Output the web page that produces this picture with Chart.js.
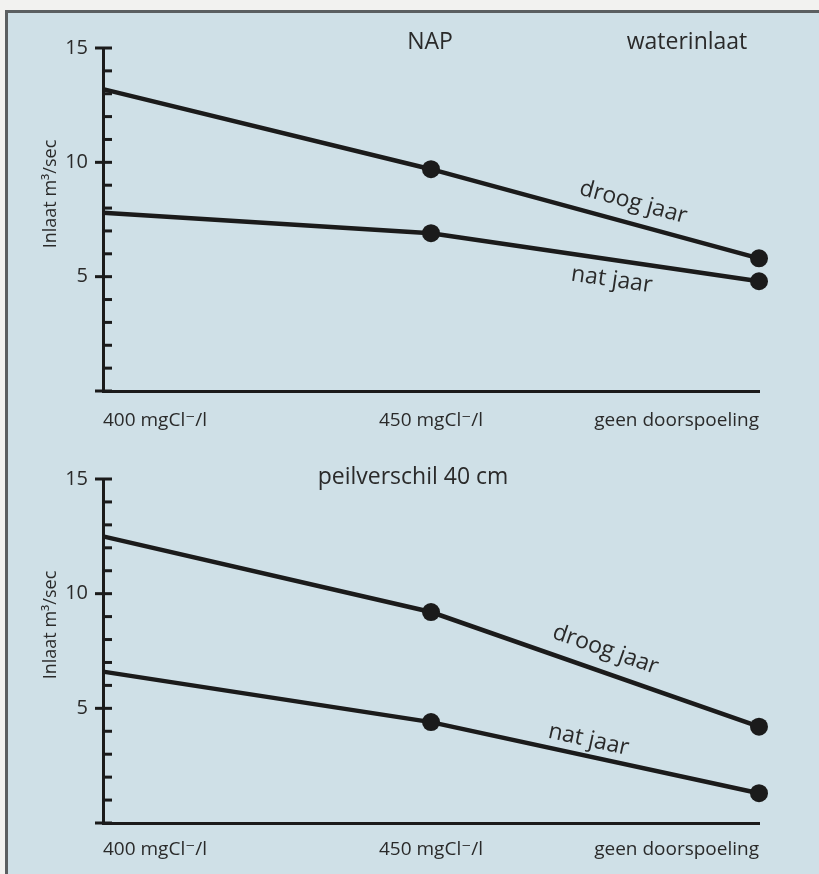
<!DOCTYPE html>
<html>
<head>
<meta charset="utf-8">
<script src="https://cdn.jsdelivr.net/npm/chart.js@4/dist/chart.umd.min.js"></script>
<style>
  html, body { margin: 0; padding: 0; }
  body { width: 819px; height: 874px; overflow: hidden; background: #f2f2f0; position: relative; }
  #panel { position: absolute; left: 5px; top: 10px; right: 0; bottom: 0;
           border-left: 3px solid #5b5f61; border-top: 3px solid #5b5f61; background: #cfe0e7; }
  canvas { position: absolute; left: 0; }
  #c1 { top: 0; }
  #c2 { top: 437px; }
</style>
</head>
<body>
<div id="panel"></div>
<canvas id="c1" width="819" height="437"></canvas>
<canvas id="c2" width="819" height="437"></canvas>
<script>
// Scenarios along the x axis
const categories = ['400 mgCl⁻/l', '450 mgCl⁻/l', 'geen doorspoeling'];

// Inlet flow (m³/sec), NAP water level
const napDroog = [13.2, 9.7, 5.8];
const napNat   = [7.8, 6.9, 4.8];

// Inlet flow (m³/sec), level difference 40 cm
const peilDroog = [12.5, 9.2, 4.2];
const peilNat   = [6.6, 4.4, 1.3];

// Labelled values on the y axis (minor ticks every 1)
const yTickLabels = [5, 10, 15];
const yMin = 0, yMax = 15;

const INK = '#1b1b1b';
const TEXT = '#2a2a2a';
const FONT = '"Open Sans", "DejaVu Sans", sans-serif';

// Draws the axis tick marks, the rotated y title, panel headings and line labels
const figureText = {
  id: 'figureText',
  afterDatasetsDraw(chart, args, opts) {
    const ctx = chart.ctx;
    const ys = chart.scales.y;
    const area = chart.chartArea;
    const ax = area.left;
    ctx.save();
    // tick marks on the y axis
    ctx.strokeStyle = INK;
    ctx.lineWidth = 3;
    ys.ticks.forEach(t => {
      const y = ys.getPixelForValue(t.value);
      ctx.beginPath();
      if (t.value % 5 === 0) {
        ctx.moveTo(ax - 8, y); ctx.lineTo(ax + 9, y);
      } else {
        ctx.moveTo(ax, y); ctx.lineTo(ax + 9, y);
      }
      ctx.stroke();
    });
    // y axis title
    ctx.fillStyle = TEXT;
    ctx.font = '18px ' + FONT;
    ctx.textAlign = 'center';
    ctx.textBaseline = 'middle';
    ctx.save();
    ctx.translate(opts.yTitleX, area.top + opts.yTitleDy);
    ctx.rotate(-Math.PI / 2);
    ctx.fillText(opts.yTitle, 0, 0);
    ctx.restore();
    // headings
    ctx.font = '23px ' + FONT;
    opts.headings.forEach(h => {
      ctx.fillText(h.text, h.x, h.y);
    });
    // labels along the lines
    ctx.font = '23px ' + FONT;
    opts.lineLabels.forEach(l => {
      const pts = chart.getDatasetMeta(l.dataset).data;
      const p1 = pts[l.segment], p2 = pts[l.segment + 1];
      const ang = Math.atan2(p2.y - p1.y, p2.x - p1.x);
      const cx = p1.x + (p2.x - p1.x) * l.t - Math.sin(ang) * l.offset;
      const cy = p1.y + (p2.y - p1.y) * l.t + Math.cos(ang) * l.offset;
      ctx.save();
      ctx.translate(cx, cy);
      ctx.rotate(ang);
      ctx.fillText(l.text, 0, 0);
      ctx.restore();
    });
    ctx.restore();
  }
};

function lineDataset(values) {
  return {
    data: values,
    borderColor: INK,
    borderWidth: 4.5,
    backgroundColor: INK,
    pointBackgroundColor: INK,
    pointBorderWidth: 0,
    pointRadius: [0, 9, 9],
    tension: 0,
    clip: false
  };
}

function makeChart(id, droog, nat, cfg) {
  return new Chart(document.getElementById(id), {
    type: 'line',
    data: {
      labels: categories,
      datasets: [lineDataset(droog), lineDataset(nat)]
    },
    options: {
      responsive: false,
      animation: false,
      devicePixelRatio: 1,
      layout: { padding: { top: cfg.top, right: 60, left: 0, bottom: 0 } },
      plugins: {
        legend: { display: false },
        tooltip: { enabled: false },
        figureText: {
          yTitle: 'Inlaat m³/sec',
          yTitleX: 51,
          yTitleDy: 146,
          headings: cfg.headings,
          lineLabels: cfg.lineLabels
        }
      },
      scales: {
        x: {
          type: 'category',
          offset: false,
          grid: { display: false, drawTicks: false },
          border: { display: true, color: INK, width: 3 },
          ticks: {
            align: 'inner',
            padding: cfg.xPad,
            color: TEXT,
            font: { family: FONT, size: 19 },
            maxRotation: 0,
            autoSkip: false
          },
          afterFit: s => { s.height = cfg.xHeight; }
        },
        y: {
          min: yMin,
          max: yMax,
          grid: { display: false, drawTicks: false },
          border: { display: true, color: INK, width: 3 },
          ticks: {
            stepSize: 1,
            autoSkip: false,
            padding: 15,
            color: TEXT,
            font: { family: FONT, size: 20 },
            callback: v => yTickLabels.includes(v) ? String(v) : ''
          },
          afterFit: s => { s.width = 103; }
        }
      }
    },
    plugins: [figureText]
  });
}

makeChart('c1', napDroog, napNat, {
  top: 48,
  xHeight: 46,
  xPad: 18,
  headings: [
    { text: 'NAP', x: 430, y: 42 },
    { text: 'waterinlaat', x: 687, y: 42 }
  ],
  lineLabels: [
    { dataset: 0, text: 'droog jaar', segment: 1, t: 0.6, offset: -21 },
    { dataset: 1, text: 'nat jaar', segment: 1, t: 0.56, offset: 20 }
  ]
});

makeChart('c2', peilDroog, peilNat, {
  top: 42,
  xHeight: 51,
  xPad: 15,
  headings: [
    { text: 'peilverschil 40 cm', x: 413, y: 40 }
  ],
  lineLabels: [
    { dataset: 0, text: 'droog jaar', segment: 1, t: 0.51, offset: -22 },
    { dataset: 1, text: 'nat jaar', segment: 1, t: 0.47, offset: -16 }
  ]
});
</script>
</body>
</html>
